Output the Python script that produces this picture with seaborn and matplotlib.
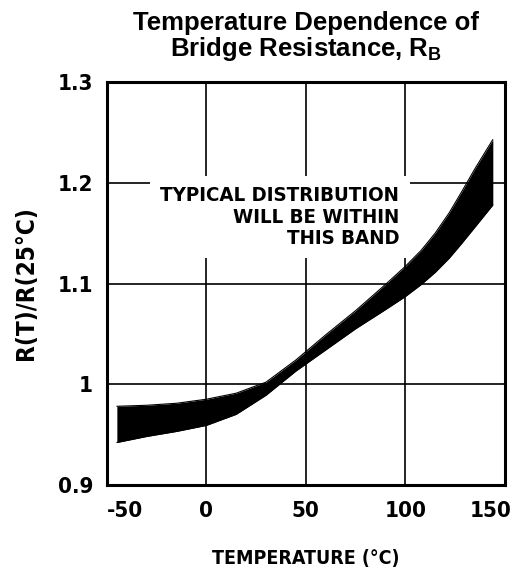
import matplotlib
matplotlib.use("Agg")
import matplotlib.pyplot as plt
import matplotlib.transforms as mtransforms
import pandas as pd
import seaborn as sns

# values
temp_c = [-45, -30, -15, 0, 15, 30, 45, 60, 75, 90, 100, 108, 115, 122, 128, 135, 144]
upper = [0.978, 0.979, 0.981, 0.985, 0.991, 1.002, 1.024, 1.049, 1.073, 1.099,
         1.117, 1.133, 1.150, 1.170, 1.190, 1.214, 1.243]
lower = [0.942, 0.948, 0.953, 0.959, 0.970, 0.989, 1.013, 1.034, 1.055, 1.074,
         1.087, 1.099, 1.111, 1.125, 1.139, 1.156, 1.178]
x_ticks = [-50, 0, 50, 100, 150]
x_tick_labels = ["-50", "0", "50", "100", "150"]
y_ticks = [0.9, 1.0, 1.1, 1.2, 1.3]
y_tick_labels = ["0.9", "1", "1.1", "1.2", "1.3"]


def shift_label(lab, fig, dx_px):
    lab.set_transform(lab.get_transform()
                      + mtransforms.ScaledTranslation(dx_px / fig.dpi, 0, fig.dpi_scale_trans))


def main() -> None:
    df = pd.DataFrame({"temp": temp_c, "upper": upper, "lower": lower})

    sns.set_theme(style="white")
    plt.rcParams["font.family"] = ["DejaVu Sans"]
    for key in ("text.color", "axes.labelcolor", "xtick.color", "ytick.color"):
        plt.rcParams[key] = "black"
    cond = dict(family="DejaVu Sans", stretch="condensed", weight="bold")

    fig = plt.figure(figsize=(5.14, 5.71), dpi=100)
    ax = fig.add_axes([0.208, 0.151, 0.774, 0.705])

    ax.fill_between(df["temp"], df["lower"], df["upper"], color="black",
                    linewidth=0, zorder=3)
    sns.lineplot(data=df, x="temp", y="upper", ax=ax, color="black",
                 linewidth=0.8, zorder=3)
    sns.lineplot(data=df, x="temp", y="lower", ax=ax, color="black",
                 linewidth=0.8, zorder=3)

    ax.set_xlim(-50, 150)
    ax.set_ylim(0.9, 1.3)
    ax.set_xticks(x_ticks)
    ax.set_xticklabels(x_tick_labels, **cond, fontsize=16)
    ax.set_yticks(y_ticks)
    ax.set_yticklabels(y_tick_labels, **cond, fontsize=16)
    ax.grid(True, color="black", linewidth=1.2, zorder=1)
    ax.set_axisbelow(True)
    for s in ax.spines.values():
        s.set_color("black")
        s.set_linewidth(2.2)
    ax.tick_params(axis="x", length=0, pad=12)
    ax.tick_params(axis="y", length=0, pad=10)

    # end labels sit inside the frame in the reference
    xlabels = ax.get_xticklabels()
    shift_label(xlabels[0], fig, 18)
    shift_label(xlabels[-1], fig, -14)

    ax.set_xlabel("TEMPERATURE (°C)", fontsize=14, labelpad=20, **cond)
    ax.set_ylabel("R(T)/R(25°C)", fontsize=17.5, labelpad=14, **cond)
    ax.set_title("Temperature Dependence of\nBridge Resistance, R$_\\mathregular{B}$",
                 fontsize=18.5, fontweight="bold", family=["Liberation Sans", "DejaVu Sans"],
                 pad=19, linespacing=0.98)

    ax.text(97, 1.166, "TYPICAL DISTRIBUTION\nWILL BE WITHIN\nTHIS BAND",
            ha="right", va="center", multialignment="right", fontsize=14.7,
            linespacing=1.14, zorder=4, **cond,
            bbox=dict(boxstyle="square,pad=0.5", facecolor="white",
                      edgecolor="none"))

    fig.savefig("out.png", dpi=100)
    plt.close(fig)


if __name__ == "__main__":
    main()
